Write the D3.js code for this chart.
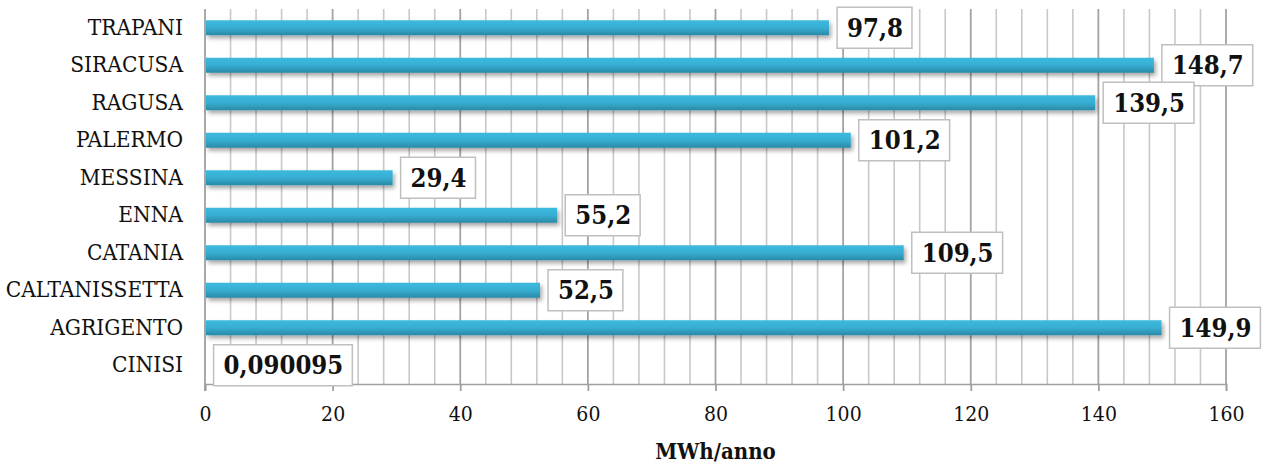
<!DOCTYPE html>
<html><head><meta charset="utf-8">
<script src="https://cdn.jsdelivr.net/npm/d3@7"></script>
<style>body{margin:0;background:#fff}svg{display:block}</style>
</head><body><svg id="c" width="1262" height="466"></svg>
<script>
const categories = ["TRAPANI","SIRACUSA","RAGUSA","PALERMO","MESSINA","ENNA","CATANIA","CALTANISSETTA","AGRIGENTO","CINISI"];
const values = [97.8,148.7,139.5,101.2,29.4,55.2,109.5,52.5,149.9,0.090095];
const valueLabels = ["97,8","148,7","139,5","101,2","29,4","55,2","109,5","52,5","149,9","0,090095"];
const xTicks = [0,20,40,60,80,100,120,140,160];
const axisTitle = "MWh/anno";

const svg = d3.select("#c");
const L = 205, R = 1226, T = 9, B = 384;
const FONT = "'DejaVu Serif Condensed', 'DejaVu Serif', serif";
const x = d3.scaleLinear().domain([0,160]).range([L,R]);
const y = d3.scaleBand().domain(categories).range([T,B]).paddingInner(0.6).paddingOuter(0.3);
const yb = d3.scaleBand().domain(categories).range([T,B]);

const defs = svg.append("defs");
const g = defs.append("linearGradient").attr("id","bg").attr("x1",0).attr("y1",0).attr("x2",0).attr("y2",1);
g.append("stop").attr("offset","0%").attr("stop-color","#3dbade");
g.append("stop").attr("offset","50%").attr("stop-color","#36aed2");
g.append("stop").attr("offset","100%").attr("stop-color","#2a8aa6");
const f = defs.append("filter").attr("id","sh").attr("x","-5%").attr("y","-50%").attr("width","110%").attr("height","250%");
f.append("feDropShadow").attr("dx",2).attr("dy",3).attr("stdDeviation",2.2).attr("flood-color","#000").attr("flood-opacity",0.35);

// minor gridlines
const minor = d3.range(0,161,4).filter(v => v % 20 !== 0);
svg.append("g").selectAll("line").data(minor).join("line")
  .attr("x1",d=>x(d)).attr("x2",d=>x(d)).attr("y1",T).attr("y2",B)
  .attr("stroke","#c8c8c8").attr("stroke-width",1.6);
svg.append("g").selectAll("line").data(xTicks.slice(1)).join("line")
  .attr("x1",d=>x(d)).attr("x2",d=>x(d)).attr("y1",T).attr("y2",B)
  .attr("stroke","#a3a3a3").attr("stroke-width",1.8);

// x axis
const xa = svg.append("g").attr("transform",`translate(0,${B})`)
  .call(d3.axisBottom(x).tickValues(xTicks).tickSize(7).tickPadding(15).tickFormat(d3.format("d")));
xa.select(".domain").attr("stroke","#a0a0a0").attr("stroke-width",1.6);
xa.selectAll(".tick line").attr("stroke","#a0a0a0").attr("stroke-width",1.8);
xa.selectAll("text").attr("font-family",FONT).attr("font-size",21).attr("fill","#111");

// y axis
const ya = svg.append("g").attr("transform",`translate(${L},0)`)
  .call(d3.axisLeft(yb).tickSize(0).tickPadding(22));
ya.select(".domain").attr("stroke","#a0a0a0").attr("stroke-width",1.8).attr("d",`M0,${T}V${B+7}`);
ya.selectAll("text").attr("font-family",FONT).attr("font-size",22.5).attr("fill","#111");

// bars
svg.append("g").selectAll("rect").data(values).join("rect")
  .attr("x",x(0)+1).attr("y",(d,i)=>y(categories[i]))
  .attr("width",d=>Math.max(0,x(d)-x(0)-1)).attr("height",y.bandwidth())
  .attr("fill","url(#bg)").attr("filter","url(#sh)");

// value labels
const lg = svg.append("g");
values.forEach((v,i)=>{
  const cy = yb(categories[i]) + yb.bandwidth()/2;
  const gx = x(v) + 8;
  const grp = lg.append("g");
  const r = grp.append("rect").attr("fill","#fff").attr("stroke","#bfbfbf").attr("stroke-width",1.5);
  const t = grp.append("text").text(valueLabels[i]).attr("x",gx+10).attr("y",cy)
    .attr("dy","0.36em").attr("font-family",FONT).attr("font-weight","bold").attr("font-size",25.5).attr("fill","#111");
  const w = t.node().getComputedTextLength();
  r.attr("x",gx).attr("y",cy-20.5).attr("width",w+19).attr("height",41);
});

svg.append("text").text(axisTitle).attr("x",(L+R)/2).attr("y",451).attr("dy","0.35em")
  .attr("text-anchor","middle").attr("font-family",FONT).attr("font-weight","bold").attr("font-size",22).attr("fill","#111");
</script></body></html>
